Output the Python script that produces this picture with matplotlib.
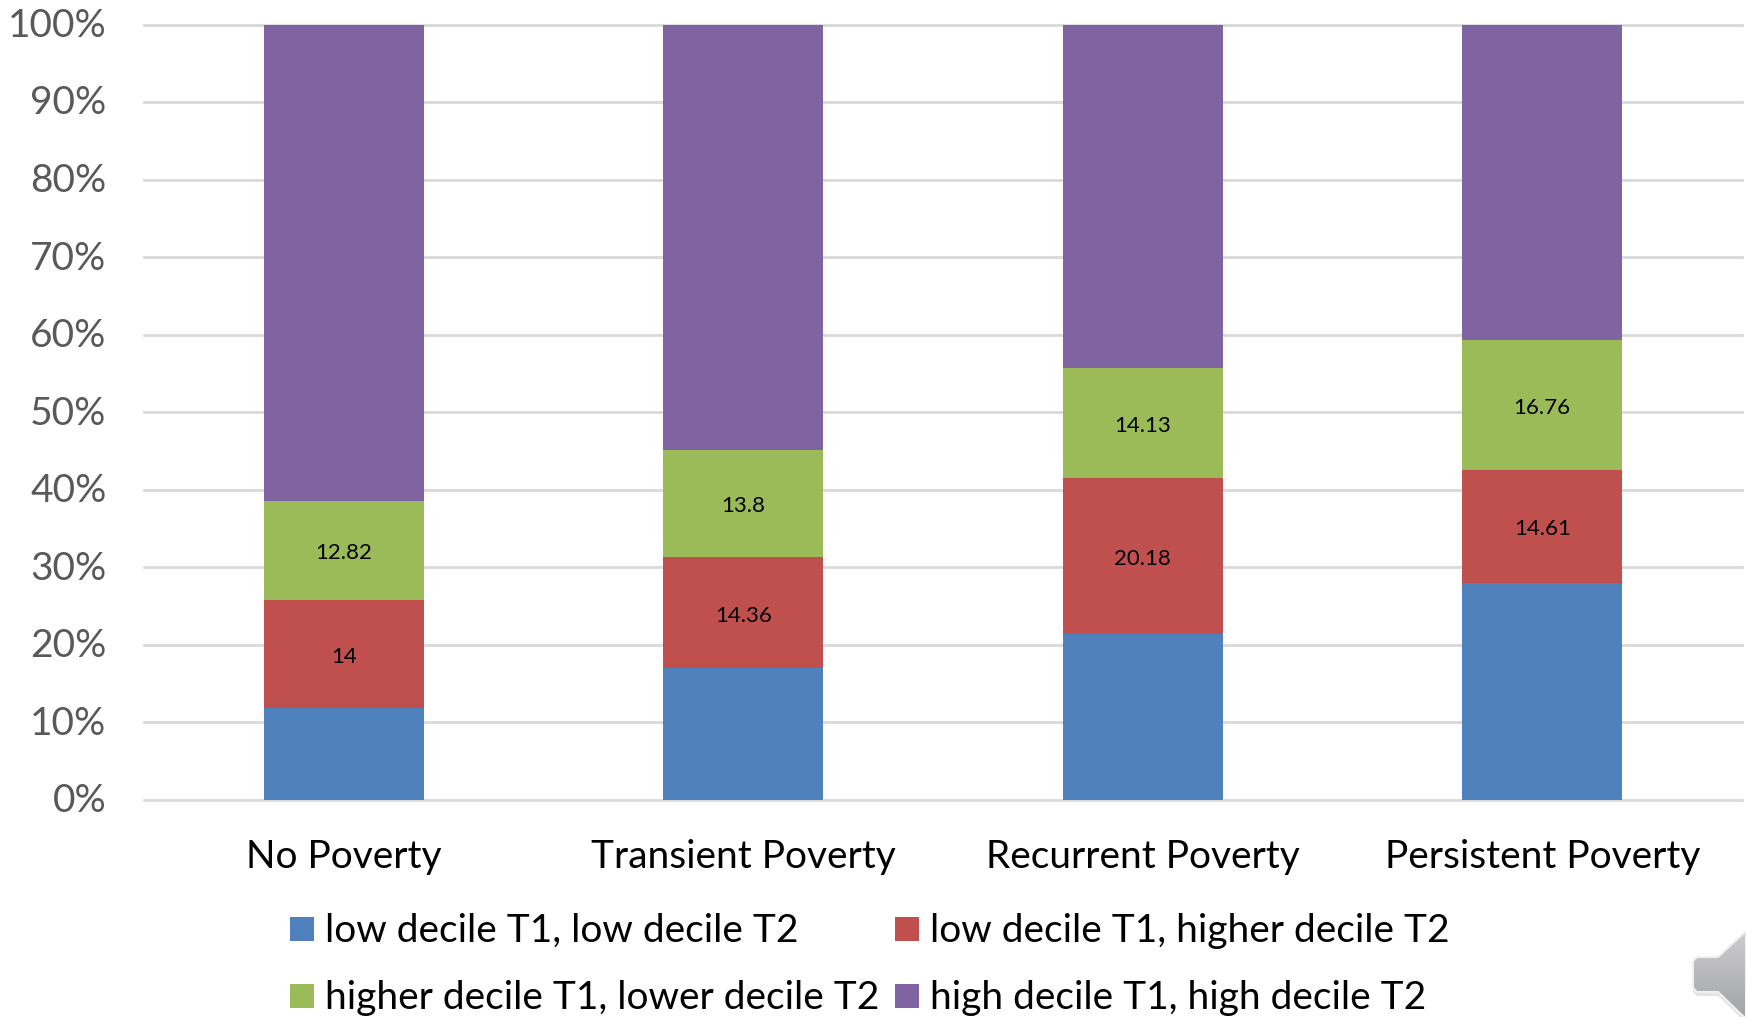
import matplotlib
matplotlib.use('Agg')
import matplotlib.pyplot as plt
import matplotlib.transforms as mtrans
import numpy as np
from matplotlib.patches import Rectangle, Polygon

categories = ['No Poverty', 'Transient Poverty', 'Recurrent Poverty', 'Persistent Poverty']
low_low = [11.8, 17.0, 21.4, 28.0]
low_high = [14, 14.36, 20.18, 14.61]
high_low = [12.82, 13.8, 14.13, 16.76]
high_high = [61.38, 54.84, 44.29, 40.63]
low_high_labels = ['14', '14.36', '20.18', '14.61']
high_low_labels = ['12.82', '13.8', '14.13', '16.76']
tick_labels = ['0%', '10%', '20%', '30%', '40%', '50%', '60%', '70%', '80%', '90%', '100%']

W, H = 1746, 1017
plt.rcParams['font.family'] = ['Lato', 'DejaVu Sans']

fig = plt.figure(figsize=(W / 100, H / 100), dpi=100)
ax = fig.add_axes([144 / W, 1 - 800 / H, (1742 - 144) / W, (800 - 24.5) / H])

x = np.arange(4)
bottom = np.zeros(4)
series = [low_low, low_high, high_low, high_high]
colors = ['#4f81bd', '#c0504d', '#9bbb59', '#8064a2']
for vals, col in zip(series, colors):
    ax.bar(x, vals, 0.4, bottom=bottom, color=col, zorder=3)
    if vals is low_high or vals is high_low:
        labels = low_high_labels if vals is low_high else high_low_labels
        for xi, b, v, lab in zip(x, bottom, vals, labels):
            ax.annotate(lab, (xi, b + v / 2), xytext=(0, -2.2), textcoords='offset points',
                        ha='center', va='center', fontsize=16, color='black', zorder=4)
    bottom = bottom + np.array(vals)

ax.set_xlim(-0.5, 3.5)
ax.set_ylim(0, 100)
ax.set_yticks(range(0, 101, 10))
ax.set_yticklabels(tick_labels, fontsize=28, color='#595959')
ax.set_xticks(x)
ax.set_xticklabels(categories, fontsize=28, color='black')
ax.tick_params(axis='both', length=0)
ax.tick_params(axis='x', pad=28)
ax.tick_params(axis='y', pad=27)
ax.grid(axis='y', color='#d9d9d9', lw=2, zorder=0)
for s in ax.spines.values():
    s.set_visible(False)
for gl in ax.get_ygridlines():
    gl.set_clip_on(False)

# nudge the percent labels up a little
nudge = mtrans.ScaledTranslation(0, 1.5 / 72, fig.dpi_scale_trans)
for lab in ax.get_yticklabels():
    lab.set_transform(lab.get_transform() + nudge)

# legend is laid out by hand in two rows
overlay = fig.add_axes([0, 0, 1, 1])
names = [('low decile T1, low decile T2', 290, 931, colors[0]),
         ('low decile T1, higher decile T2', 895, 931, colors[1]),
         ('higher decile T1, lower decile T2', 290, 998, colors[2]),
         ('high decile T1, high decile T2', 895, 998, colors[3])]
for name, lx, ly, col in names:
    overlay.add_patch(Rectangle((lx, ly - 14), 24, 24, color=col, lw=0))
    overlay.text(lx + 35, ly, name, fontsize=28, va='center', ha='left', color='black')

# speaker icon in the corner, grey gradient with a pale rim and soft shadow
outline = [[1697, 957], [1718, 957], [1746, 931], [1746, 1017], [1744, 1017], [1718, 992],
           [1697, 992], [1693, 988], [1693, 961]]
shadow = Polygon([[px, py + 4] for px, py in outline], closed=True, facecolor='#e4e4e4', edgecolor='none')
overlay.add_patch(shadow)
icon = Polygon(outline, closed=True, facecolor='none', edgecolor='none')
overlay.add_patch(icon)
shade = np.linspace(0, 1, 90).reshape(-1, 1)
im = overlay.imshow(shade, extent=(1690, 1746, 1017, 928), cmap=matplotlib.colors.LinearSegmentedColormap.from_list('speaker', ['#cfcfd1', '#a3a4a6']), aspect='auto', zorder=3)
im.set_clip_path(icon)
overlay.add_patch(Polygon(outline, closed=True, facecolor='none', edgecolor='#f0f0f0', lw=1.5, zorder=4))

overlay.set_xlim(0, W)
overlay.set_ylim(H, 0)
overlay.axis('off')

fig.savefig('out.png', dpi=100)
